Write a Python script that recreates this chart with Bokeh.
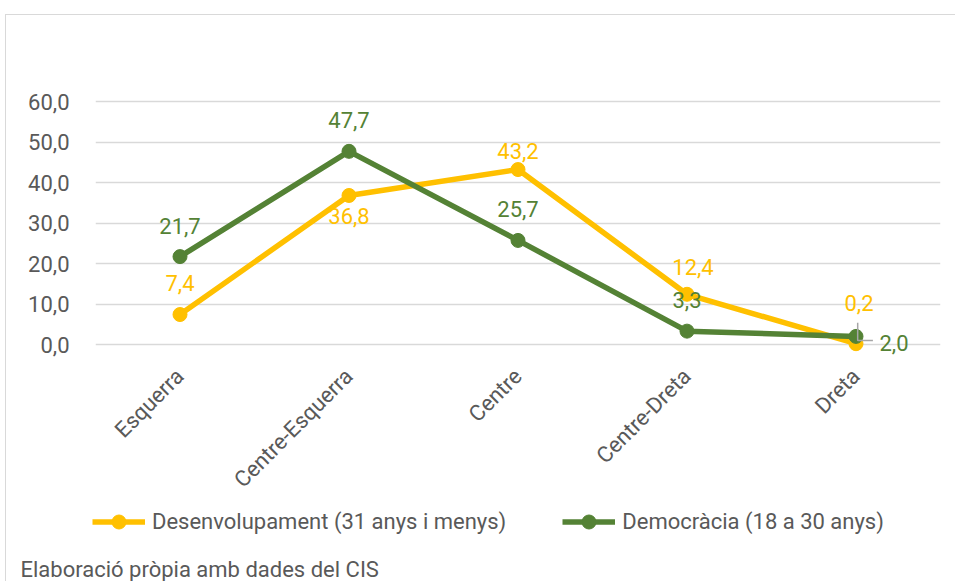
import math
from bokeh.plotting import figure
from bokeh.layouts import column
from bokeh.models import (FactorRange, Range1d, FixedTicker, CustomJSTickFormatter,
                          Legend, LegendItem, Label, ColumnDataSource)
from bokeh.embed import file_html
from bokeh.resources import INLINE
from bokeh.core.properties import value

# ---- data ----
categories = ["Esquerra", "Centre-Esquerra", "Centre", "Centre-Dreta", "Dreta"]
desenvolupament = [7.4, 36.8, 43.2, 12.4, 0.2]
democracia = [21.7, 47.7, 25.7, 3.3, 2.0]
y_ticks = [0, 10, 20, 30, 40, 50, 60]
series_names = ["Desenvolupament (31 anys i menys)", "Democràcia (18 a 30 anys)"]
caption = "Elaboració pròpia amb dades del CIS"

# ---- styles ----
YELLOW = "#FFC000"
GREEN = "#548235"
GREY = "#595959"
GRID = "#d9d9d9"
FONT = "Roboto"
FS = "22px"

# label offsets in screen px (dx, dy)
yel_dx = [0, 0, 0, 6, 3]
yel_dy = [-32, 21, -19, -27, -41]
grn_dx = [0, 0, 0, 0, 38]
grn_dy = [-31, -31, -31, -31, 7]


def fmt(v):
    return f"{v:.1f}".replace(".", ",")


# ---------- main chart ----------
p = figure(width=955, height=508,
           x_range=FactorRange(*categories, range_padding=0),
           y_range=Range1d(-3.457, 61.98),
           output_backend="svg", toolbar_location=None,
           min_border_left=95, min_border_right=15,
           min_border_top=93, min_border_bottom=150)
p.frame_align = False
p.outline_line_color = None
p.background_fill_color = "white"
p.border_fill_alpha = 0

p.yaxis.ticker = FixedTicker(ticks=y_ticks)
p.ygrid.ticker = p.yaxis[0].ticker
p.yaxis.formatter = CustomJSTickFormatter(code="return tick.toFixed(1).replace('.', ',');")
for ax in (p.xaxis[0], p.yaxis[0]):
    ax.axis_line_color = None
    ax.major_tick_line_color = None
    ax.minor_tick_line_color = None
    ax.major_label_text_font = FONT
    ax.major_label_text_font_size = FS
    ax.major_label_text_color = GREY
p.yaxis.major_label_standoff = 20
p.xaxis.major_label_orientation = math.pi / 4
p.xaxis.major_label_standoff = 8
p.xgrid.visible = False
p.ygrid.grid_line_color = GRID
p.ygrid.grid_line_width = 1.3

r1 = p.line(categories, desenvolupament, line_color=YELLOW, line_width=5.5)
c1 = p.scatter(categories, desenvolupament, size=14, fill_color=YELLOW, line_color=YELLOW)
r2 = p.line(categories, democracia, line_color=GREEN, line_width=5.5)
c2 = p.scatter(categories, democracia, size=14, fill_color=GREEN, line_color=GREEN)

# leader line for last green label
lead_x = [4.51, 4.51, 4.6]
lead_y = [democracia[4] + 3.4, democracia[4] - 1.0, democracia[4] - 1.0]
p.line(lead_x, lead_y, line_color="#a6a6a6", line_width=1.5)

src1 = ColumnDataSource(dict(x=categories, y=desenvolupament,
                             t=[fmt(v) for v in desenvolupament], dx=yel_dx, dy=yel_dy))
src2 = ColumnDataSource(dict(x=categories, y=democracia,
                             t=[fmt(v) for v in democracia], dx=grn_dx, dy=grn_dy))
for src, col in ((src1, YELLOW), (src2, GREEN)):
    p.text(x="x", y="y", text="t", x_offset="dx", y_offset="dy", source=src,
           text_font=value(FONT), text_font_size=FS, text_color=col,
           text_align="center", text_baseline="middle")

# ---------- legend + caption strip ----------
p2 = figure(width=955, height=73, x_range=Range1d(0, 955), y_range=Range1d(0, 73),
            output_backend="svg", toolbar_location=None,
            x_axis_location=None, y_axis_location=None,
            min_border=0, min_border_left=0, min_border_right=0,
            min_border_top=0, min_border_bottom=0)
p2.frame_align = False
p2.outline_line_color = None
p2.background_fill_alpha = 0
p2.border_fill_alpha = 0
p2.grid.visible = False

# legend proxies (not visible: NaN coordinates)
nan = float("nan")
l1 = p2.line([nan], [nan], line_color=YELLOW, line_width=5.5)
m1 = p2.scatter([nan], [nan], size=14, fill_color=YELLOW, line_color=YELLOW)
l2 = p2.line([nan], [nan], line_color=GREEN, line_width=5.5)
m2 = p2.scatter([nan], [nan], size=14, fill_color=GREEN, line_color=GREEN)

legend = Legend(items=[LegendItem(label=series_names[0], renderers=[l1, m1]),
                       LegendItem(label=series_names[1], renderers=[l2, m2])],
                orientation="horizontal", location=(92, 42.5),
                glyph_width=53, glyph_height=35, label_height=26,
                label_standoff=7, spacing=56, padding=0, margin=0,
                border_line_color=None, background_fill_alpha=0,
                label_text_font=FONT, label_text_font_size=FS,
                label_text_color=GREY)
p2.add_layout(legend, "center")

p2.add_layout(Label(x=20, y=12, x_units="screen", y_units="screen", text=caption,
                    text_font=FONT, text_font_size="22px", text_color=GREY,
                    text_baseline="alphabetic"))

layout = column(p, p2, spacing=0)
layout.styles = {
    "background": ("linear-gradient(#d9d9d9,#d9d9d9) 5px 14px / 950px 1px no-repeat, "
                   "linear-gradient(#d9d9d9,#d9d9d9) 5px 14px / 1px 567px no-repeat, white"),
}

open("out.html", "w").write(file_html(layout, INLINE))
